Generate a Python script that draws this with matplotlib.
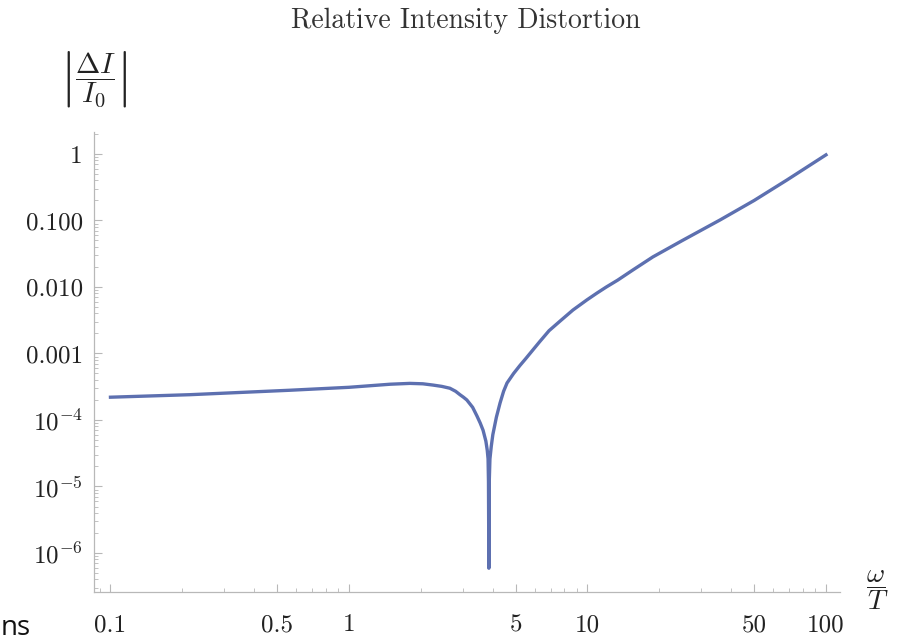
import numpy as np
import matplotlib
matplotlib.use("Agg")
import matplotlib.pyplot as plt
from matplotlib.ticker import FixedLocator, NullFormatter

plt.rcParams["font.family"] = "serif"
plt.rcParams["font.serif"] = ["cmr10"]
plt.rcParams["mathtext.fontset"] = "cm"
plt.rcParams["axes.unicode_minus"] = False

# |dI/I0|, omega/T on the x axis
omega = [0.1, 0.215, 0.566, 1.0, 1.49, 1.8, 2.04, 2.25, 2.45, 2.65, 2.8,
         2.92, 3.02, 3.12, 3.3, 3.44, 3.55, 3.65, 3.75, 3.8, 3.83, 3.845,
         3.86, 3.875, 3.9, 3.95, 4.01, 4.15, 4.30, 4.45, 4.60, 4.9, 5.21,
         5.5, 5.74, 6.3, 6.9, 7.7, 8.69, 9.95, 10.96, 12.0, 13.4, 15.5,
         18.8, 25.0, 36.0, 50.0, 68.6, 100.0]
distortion = [2.2e-4, 2.4e-4, 2.8e-4, 3.1e-4, 3.45e-4, 3.55e-4, 3.5e-4,
              3.35e-4, 3.2e-4, 3.0e-4, 2.7e-4, 2.4e-4, 2.2e-4, 2.0e-4,
              1.55e-4, 1.15e-4, 9.0e-5, 7.0e-5, 4.8e-5, 3.5e-5, 2.6e-5,
              1.2e-5, 5.9e-7, 1.2e-5, 2.6e-5, 4.0e-5, 6.0e-5, 1.1e-4, 1.8e-4,
              2.7e-4, 3.6e-4, 5.0e-4, 6.6e-4, 8.3e-4, 1.0e-3, 1.5e-3, 2.2e-3,
              3.1e-3, 4.5e-3, 6.4e-3, 8.1e-3, 1.0e-2, 1.27e-2, 1.8e-2,
              2.83e-2, 5.0e-2, 0.102, 0.2, 0.406, 0.97]

xticks = [0.1, 0.5, 1, 5, 10, 50, 100]
xticklabels = ["0.1", "0.5", "1", "5", "10", "50", "100"]
yticks = [1, 0.1, 0.01, 0.001, 1e-4, 1e-5, 1e-6]
yticklabels = ["1", "0.100", "0.010", "0.001", r"$10^{-4}$", r"$10^{-5}$", r"$10^{-6}$"]

W, H = 902, 641
fig = plt.figure(figsize=(W / 100, H / 100), dpi=100)
ax = fig.add_axes([94 / W, 1 - 592 / H, (840 - 94) / W, (592 - 132) / H])

ax.plot(omega, distortion, color="#5d70b0", lw=2.4, solid_joinstyle="round")
ax.set_xscale("log")
ax.set_yscale("log")
ax.set_xlim(0.0853, 114.5)
ax.set_ylim(2.59e-7, 2.14)

for s in ["top", "right"]:
    ax.spines[s].set_visible(False)
for s in ["left", "bottom"]:
    ax.spines[s].set_color("#b8b8b8")
    ax.spines[s].set_linewidth(0.9)

ax.xaxis.set_major_locator(FixedLocator(xticks))
ax.set_xticklabels(xticklabels)
ax.yaxis.set_major_locator(FixedLocator(yticks))
ax.set_yticklabels(yticklabels)
xminor = [m * 10.0 ** e for e in range(-2, 3) for m in range(1, 10)]
ax.xaxis.set_minor_locator(FixedLocator([v for v in xminor if v not in xticks]))
ax.xaxis.set_minor_formatter(NullFormatter())
ax.yaxis.set_minor_formatter(NullFormatter())

ax.tick_params(which="both", direction="in", color="#b8b8b8", labelcolor="#222222",
               labelsize=18)
ax.tick_params(which="major", length=6, width=0.8)
ax.tick_params(which="minor", length=3, width=0.6)
ax.tick_params(axis="x", which="major", pad=16)
ax.tick_params(axis="y", which="major", pad=8)

fig.text(466 / W, 1 - 21 / H, "Relative Intensity Distortion", ha="center",
         va="center", fontsize=20, color="#333333")
fig.text(94 / W, 1 - 79 / H, r"$\left|\dfrac{\Delta I}{I_0}\right|$", ha="center",
         va="center", fontsize=21, color="#222222")
fig.text(877 / W, 1 - 590 / H, r"$\dfrac{\omega}{T}$", ha="center", va="center",
         fontsize=20, color="#222222")
fig.text(1 / W, 1 - 628 / H, "ns", ha="left", va="center", fontsize=20,
         family="Open Sans", color="#111111")

fig.savefig("out.png", dpi=100)
